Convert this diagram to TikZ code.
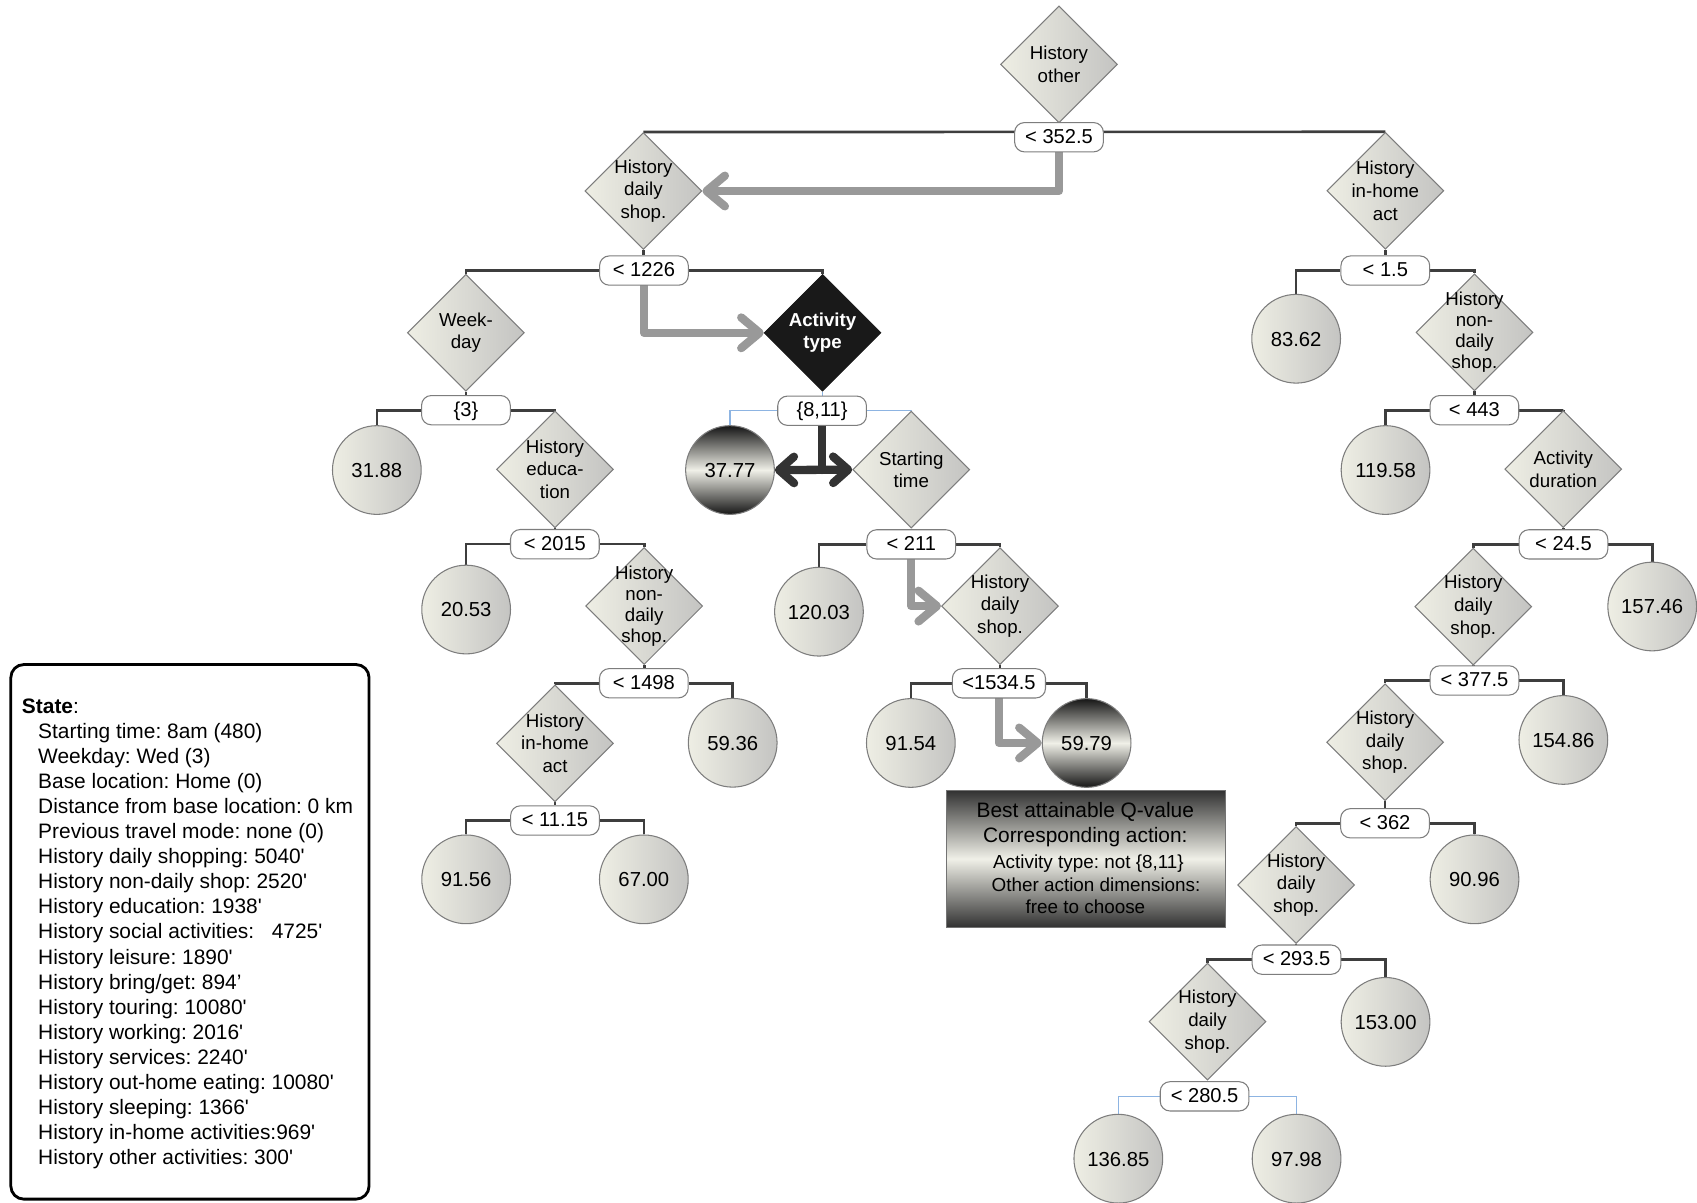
\documentclass[tikz,border=0pt]{standalone}
\usepackage{fontspec}
\setmainfont{Liberation Sans}
\usetikzlibrary{shapes.geometric,arrows.meta}
\pgfdeclarelayer{bg}
\pgfsetlayers{bg,main}
\definecolor{nodeL}{RGB}{238,238,228}
\definecolor{nodeR}{RGB}{196,196,194}
\definecolor{nodeBorder}{RGB}{125,125,125}
\definecolor{edgeC}{RGB}{62,62,62}
\definecolor{thinBlue}{RGB}{141,180,226}
\definecolor{arrowGrey}{RGB}{153,153,153}
\definecolor{arrowDark}{RGB}{51,51,51}
\definecolor{darkEnd}{RGB}{22,22,22}
\definecolor{infoEnd}{RGB}{50,50,50}
\definecolor{lightMid}{RGB}{240,240,232}
\newcommand\sq{\textquotesingle}
\newcommand\dianode[4][]{%
  \node[dia] (#2) at (#3) {};
  \node[dtext,#1] (#2t) at (#2) {#4};}
\begin{document}
\frenchspacing
\begin{tikzpicture}[x=0.6136pt,y=-0.6136pt,
  every node/.append style={execute at begin node=\frenchspacing},
  dia/.style={diamond, aspect=1, draw=nodeBorder, line width=0.6pt,
    left color=nodeL, right color=nodeR, minimum width=66.3pt,
    minimum height=66.3pt, inner sep=0pt},
  blackdia/.style={diamond, aspect=1, draw=black!90, fill=black!90,
    minimum width=66.3pt, minimum height=66.3pt, inner sep=0pt},
  dtext/.style={align=center, inner sep=0pt, font=\fontsize{10.6}{12.8}\selectfont},
  dtext4/.style={font=\fontsize{10.6}{11.9}\selectfont},
  btext/.style={align=center, inner sep=0pt, text=white,
    font=\fontsize{10.6}{12.2}\selectfont\bfseries},
  leafbase/.style={circle, draw=nodeBorder, line width=0.6pt, minimum size=50.3pt,
    inner sep=0pt, text height=8.3pt, text depth=0pt,
    font=\fontsize{11.5}{13}\selectfont},
  leaf/.style={leafbase, left color=nodeL, right color=nodeR},
  bestleaf/.style={leafbase, top color=darkEnd, bottom color=darkEnd, middle color=lightMid},
  split/.style={draw=nodeBorder, line width=0.6pt, fill=white, rounded corners=5.5pt,
    minimum width=50.3pt, minimum height=16.6pt, inner sep=1pt,
    text height=8.2pt, text depth=1.2pt, font=\fontsize{11.4}{13}\selectfont},
  edge/.style={draw=edgeC, line width=1.5pt},
  thinedge/.style={draw=thinBlue, line width=0.6pt},
  garrow/.style={draw=arrowGrey, line width=4.7pt, line cap=round, line join=round,
    -{Straight Barb[length=10.4pt,width=17.4pt,round]}},
  darrow/.style={draw=arrowDark, line width=4.7pt, line cap=round, line join=round,
    {Straight Barb[length=8.5pt,width=15pt,round]}-{Straight Barb[length=8.5pt,width=15pt,round]}},
  dline/.style={draw=arrowDark, line width=4.7pt, line cap=round},
  infobox/.style={draw=black!55, line width=0.5pt, top color=infoEnd, bottom color=infoEnd,
    middle color=lightMid, minimum width=158.2pt, minimum height=77.5pt, inner sep=0pt},
  infoA/.style={anchor=base, inner sep=0pt, font=\fontsize{11.85}{13.6}\selectfont},
  infoB/.style={anchor=base, inner sep=0pt, font=\fontsize{10.7}{12.8}\selectfont},
  statebox/.style={draw=black, line width=1.6pt, rounded corners=7.4pt,
    minimum width=203.1pt, minimum height=303.1pt, inner sep=0pt},
  stline/.style={anchor=base west, inner sep=0pt, font=\fontsize{11.85}{13.6}\selectfont}
]
\useasboundingbox (0,0) rectangle (1568,1111);

% ---------- tree nodes ----------
\dianode{D0}{978.5,59.5}{History\\other}
\node[split] (S0) at (978.5,126.8) {< 352.5};

\dianode{D1a}{594.5,176.5}{History\\daily\\shop.}
\node[split] (S1a) at (595,250) {< 1226};
\dianode{D1b}{1280,176.3}{History\\in-home\\act}
\node[split] (S1b) at (1280,250) {< 1.5};

\dianode{D2a}{430.5,307.5}{Week-\\day}
\node[split] (S2a) at (430.5,379) {\{3\}};
\node[blackdia] (D2b) at (760,307.5) {};
\node[btext] (D2bt) at (D2b) {Activity\\type};
\node[split] (S2b) at (759.6,379.5) {\{8,11\}};
\node[leaf] (C2c) at (1197.6,313) {83.62};
\dianode[dtext4]{D2d}{1362.4,307.2}{History\\non-\\daily\\shop.}
\node[split] (S2d) at (1362.3,379) {< 443};

\node[leaf] (C3a) at (348.2,434.3) {31.88};
\dianode{D3b}{512.8,433.6}{History\\educa-\\tion}
\node[split] (S3b) at (512.7,502.8) {< 2015};
\node[bestleaf] (C3c) at (674.5,434.3) {37.77};
\dianode{D3d}{842,434}{Starting\\time}
\node[split] (S3d) at (842,503) {< 211};
\node[leaf] (C3e) at (1280.2,434.3) {119.58};
\dianode{D3f}{1444.4,433.5}{Activity\\duration}
\node[split] (S3f) at (1444.6,503) {< 24.5};

\node[leaf] (C4a) at (430.7,563.2) {20.53};
\dianode[dtext4]{D4b}{595.2,560}{History\\non-\\daily\\shop.}
\node[split] (S4b) at (594.9,631.3) {< 1498};
\node[leaf] (C4c) at (756.7,565.2) {120.03};
\dianode{D4d}{924,560}{History\\daily\\shop.}
\node[split,minimum width=52.8pt] (S4d) at (923,631.4) {<1534.5};
\dianode{D4e}{1361.3,560.5}{History\\daily\\shop.}
\node[split] (S4e) at (1362.4,628.7) {< 377.5};
\node[leaf] (C4f) at (1526.6,560.4) {157.46};

\dianode{D5a}{512.8,686.8}{History\\in-home\\act}
\node[split] (S5a) at (512.8,758.1) {< 11.15};
\node[leaf] (C5b) at (677,686.3) {59.36};
\node[leaf] (C5c) at (841.6,686.5) {91.54};
\node[bestleaf] (C5d) at (1004,686.5) {59.79};
\dianode{D5e}{1279.8,685.9}{History\\daily\\shop.}
\node[split] (S5e) at (1279.7,760.7) {< 362};
\node[leaf] (C5f) at (1444.5,683.7) {154.86};

\node[leaf] (C6a) at (430.7,812.5) {91.56};
\node[leaf] (C6b) at (594.9,812.5) {67.00};
\dianode{D6c}{1197.6,817.7}{History\\daily\\shop.}
\node[split] (S6c) at (1198,886.7) {< 293.5};
\node[leaf] (C6d) at (1362.4,812.5) {90.96};

\dianode{D7a}{1115.7,944}{History\\daily\\shop.}
\node[split] (S7a) at (1113,1013) {< 280.5};
\node[leaf] (C7b) at (1280.2,944.2) {153.00};

\node[leaf] (C8a) at (1033.3,1070.6) {136.85};
\node[leaf] (C8b) at (1198,1070.6) {97.98};

% ---------- info box ----------
\node[infobox] (info) at (1003.6,793.6) {};
\node[infoA] (i1) at (1002.8,755.2) {Best attainable Q-value};
\node[infoA] (i2) at (1002.8,778.2) {Corresponding action:};
\node[infoB] (i3) at (1005.7,802.3) {Activity type: not \{8,11\}};
\node[infoB] (i4) at (1012.7,823.9) {Other action dimensions:};
\node[infoB] (i5) at (1002.9,844.2) {free to choose};

% ---------- state box ----------
\node[statebox] (state) at (175.5,861) {};
\node[stline] (st) at (20,659) {\textbf{State}:};
\foreach \t [count=\i from 0] in {
  Starting time: 8am (480),
  Weekday: Wed (3),
  Base location: Home (0),
  Distance from base location: 0 km,
  Previous travel mode: none (0),
  History daily shopping: 5040\sq,
  History non-daily shop: 2520\sq,
  History education: 1938\sq,
  History social activities:\hspace{10pt}4725\sq,
  History leisure: 1890\sq,
  History bring/get: 894’,
  History touring: 10080\sq,
  History working: 2016\sq,
  History services: 2240\sq,
  History out-home eating: 10080\sq,
  History sleeping: 1366\sq,
  History in-home activities:969\sq,
  History other activities: 300\sq}
  \node[stline] (sl\i) at (35,{682+23.2*\i}) {\t};

% ---------- connectors ----------
\begin{pgfonlayer}{bg}
\draw[edge] (D0.south) -- (D0.south |- S0.north);
\draw[edge] (D1a.north) -- (D1b.north);

\draw[edge] (D1a.south) -- (D1a.south |- S1a.north);
\draw[edge] (S1a.west) -| (D2a.north);
\draw[edge] (S1a.east) -| (D2b.north);
\draw[edge] (D1b.south) -- (D1b.south |- S1b.north);
\draw[edge] (S1b.west) -| (C2c.north);
\draw[edge] (S1b.east) -| (D2d.north);

\draw[edge] (D2a.south) -- (D2a.south |- S2a.north);
\draw[edge] (S2a.west) -| (C3a.north);
\draw[edge] (S2a.east) -| (D3b.north);
\draw[thinedge] (D2b.south) -- (D2b.south |- S2b.north);
\draw[thinedge] (S2b.west) -| (C3c.north);
\draw[thinedge] (S2b.east) -| (D3d.north);
\draw[edge] (D2d.south) -- (D2d.south |- S2d.north);
\draw[edge] (S2d.west) -| (C3e.north);
\draw[edge] (S2d.east) -| (D3f.north);

\draw[edge] (D3b.south) -- (D3b.south |- S3b.north);
\draw[edge] (S3b.west) -| (C4a.north);
\draw[edge] (S3b.east) -| (D4b.north);
\draw[edge] (D3d.south) -- (D3d.south |- S3d.north);
\draw[edge] (S3d.west) -| (C4c.north);
\draw[edge] (S3d.east) -| (D4d.north);
\draw[edge] (D3f.south) -- (D3f.south |- S3f.north);
\draw[edge] (S3f.west) -| (D4e.north);
\draw[edge] (S3f.east) -| (C4f.north);

\draw[edge] (D4b.south) -- (D4b.south |- S4b.north);
\draw[edge] (S4b.west) -| (D5a.north);
\draw[edge] (S4b.east) -| (C5b.north);
\draw[edge] (D4d.south) -- (D4d.south |- S4d.north);
\draw[edge] (S4d.west) -| (C5c.north);
\draw[edge] (S4d.east) -| (C5d.north);
\draw[edge] (D4e.south) -- (D4e.south |- S4e.north);
\draw[edge] (S4e.west) -| (D5e.north);
\draw[edge] (S4e.east) -| (C5f.north);

\draw[edge] (D5a.south) -- (D5a.south |- S5a.north);
\draw[edge] (S5a.west) -| (C6a.north);
\draw[edge] (S5a.east) -| (C6b.north);
\draw[edge] (D5e.south) -- (D5e.south |- S5e.north);
\draw[edge] (S5e.west) -| (D6c.north);
\draw[edge] (S5e.east) -| (C6d.north);

\draw[edge] (D6c.south) -- (D6c.south |- S6c.north);
\draw[edge] (S6c.west) -| (D7a.north);
\draw[edge] (S6c.east) -| (C7b.north);

\draw[thinedge] (D7a.south) -- (D7a.south |- S7a.north);
\draw[thinedge] (S7a.west) -| (C8a.north);
\draw[thinedge] (S7a.east) -| (C8b.north);

% highlighted path
\draw[garrow] (S0.south) |- (D1a.east);
\draw[garrow] (S1a.south) |- (D2b.west);
\draw[garrow] (S3d.south) |- (D4d.west);
\draw[garrow] (S4d.south) |- (C5d.west);
\draw[dline] (S2b.south) -- (S2b.south |- C3c.east);
\draw[darrow] (C3c.east) -- (D3d.west);
\end{pgfonlayer}
\end{tikzpicture}
\end{document}
